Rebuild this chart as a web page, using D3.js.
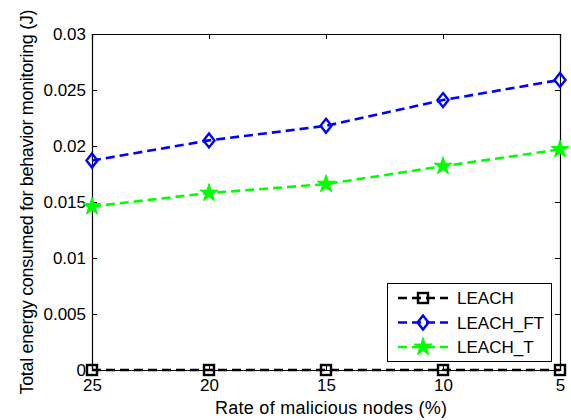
<!DOCTYPE html>
<html><head><meta charset="utf-8">
<script src="https://cdn.jsdelivr.net/npm/d3@7"></script>
<style>body{margin:0;background:#fff}svg{display:block}text{font-family:"Liberation Sans",Arial,sans-serif;fill:#000}</style>
</head><body><div id="chart"></div>
<script>
const categories = [25, 20, 15, 10, 5];
const leach = [0, 0, 0, 0, 0];
const leachFT = [0.0187, 0.0205, 0.0218, 0.0241, 0.0259];
const leachT = [0.0146, 0.0158, 0.0166, 0.0182, 0.0197];
const yTicks = [0, 0.005, 0.01, 0.015, 0.02, 0.025, 0.03];
const yTickLabels = ["0", "0.005", "0.01", "0.015", "0.02", "0.025", "0.03"];
const seriesNames = ["LEACH", "LEACH_FT", "LEACH_T"];

const W = 571, H = 420;
const m = {l: 92, r: 11, t: 34, b: 50};
const svg = d3.select("#chart").append("svg").attr("width", W).attr("height", H);
const x = d3.scaleLinear().domain([25, 5]).range([m.l, W - m.r]);
const y = d3.scaleLinear().domain([0, 0.03]).range([H - m.b, m.t]);

const series = [
  {name: seriesNames[0], vals: leach, color: "#000000", marker: "square"},
  {name: seriesNames[1], vals: leachFT, color: "#0000ff", marker: "diamond"},
  {name: seriesNames[2], vals: leachT, color: "#00ff00", marker: "star"}
];

const g = svg.append("g");
const fs = 17;
const xAxis = d3.axisBottom(x).tickValues(categories).tickSize(-5).tickPadding(8).tickFormat(d3.format("d"));
const gx = g.append("g").attr("transform", `translate(0,${H - m.b})`).call(xAxis);
const xTop = d3.axisTop(x).tickValues(categories).tickSize(-5).tickFormat("");
const gxt = g.append("g").attr("transform", `translate(0,${m.t})`).call(xTop);
const yAxis = d3.axisLeft(y).tickValues(yTicks).tickSize(-5).tickPadding(6).tickFormat((d, i) => yTickLabels[i]);
const gy = g.append("g").attr("transform", `translate(${m.l},0)`).call(yAxis);
const yRight = d3.axisRight(y).tickValues(yTicks).tickSize(-5).tickFormat("");
const gyr = g.append("g").attr("transform", `translate(${W - m.r},0)`).call(yRight);
[gx, gxt, gy, gyr].forEach(a => {
  a.select(".domain").attr("stroke", "#000").attr("stroke-width", 1.2);
  a.selectAll(".tick line").attr("stroke", "#000").attr("stroke-width", 1);
  a.selectAll("text").style("font-size", fs + "px").style("font-family", '"Liberation Sans",Arial,sans-serif').attr("fill", "#000");
});
gy.selectAll("text").attr("dy", "0.34em");
gx.selectAll("text").attr("dy", "0.74em");

svg.append("text").attr("x", (m.l + W - m.r) / 2 + 5).attr("y", 414).attr("text-anchor", "middle")
  .style("font-size", "18px").attr("textLength", 232).attr("lengthAdjust", "spacing")
  .text("Rate of malicious nodes (%)");
svg.append("text").attr("transform", `translate(33,${(m.t + H - m.b) / 2}) rotate(-90)`).attr("text-anchor", "middle")
  .style("font-size", "18px").attr("textLength", 385).attr("lengthAdjust", "spacing")
  .text("Total energy consumed for behavior monitoring (J)");

function drawMarker(sel, type, color) {
  if (type === "square") {
    sel.append("rect").attr("x", -5).attr("y", -5).attr("width", 10).attr("height", 10)
      .attr("fill", "none").attr("stroke", color).attr("stroke-width", 2.4);
  } else if (type === "diamond") {
    sel.append("path").attr("d", "M0,-7L5.5,0L0,7L-5.5,0Z")
      .attr("fill", "none").attr("stroke", color).attr("stroke-width", 2.4);
  } else {
    sel.append("path").attr("d", d3.symbol(d3.symbolStar, 100)())
      .attr("fill", color).attr("stroke", color).attr("stroke-width", 1);
  }
}

const line = d3.line().x((d, i) => x(categories[i])).y(d => y(d));
const plot = svg.append("g");
series.forEach(s => {
  plot.append("path").attr("d", line(s.vals)).attr("fill", "none").attr("stroke", s.color)
    .attr("stroke-width", 2.6).attr("stroke-dasharray", "9,5");
  s.vals.forEach((v, i) => {
    const mg = plot.append("g").attr("transform", `translate(${x(categories[i])},${y(v)})`);
    drawMarker(mg, s.marker, s.color);
  });
});

const lg = svg.append("g");
lg.append("rect").attr("x", 387.5).attr("y", 283.5).attr("width", 164).attr("height", 78)
  .attr("fill", "#fff").attr("stroke", "#000").attr("stroke-width", 1);
series.forEach((s, i) => {
  const yy = 298 + i * 24.5;
  lg.append("line").attr("x1", 398).attr("x2", 448).attr("y1", yy).attr("y2", yy)
    .attr("stroke", s.color).attr("stroke-width", 2.6).attr("stroke-dasharray", "9,5");
  const mg = lg.append("g").attr("transform", `translate(423,${yy})`);
  drawMarker(mg, s.marker, s.color);
  lg.append("text").attr("x", 457).attr("y", yy).attr("dy", "0.36em").style("font-size", "17px").text(s.name);
});
</script></body></html>
